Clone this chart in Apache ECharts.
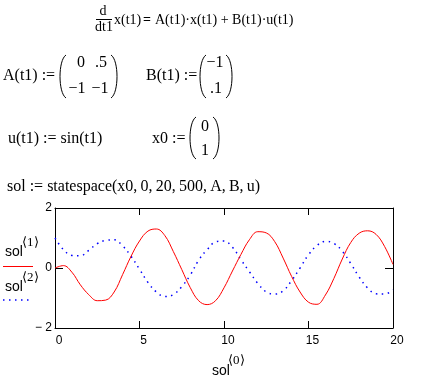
<!DOCTYPE html>
<html><head><meta charset="utf-8">
<script src="https://cdn.jsdelivr.net/npm/echarts/dist/echarts.min.js"></script>
<style>html,body{margin:0;padding:0;background:#fff}#c{width:426px;height:385px}</style>
</head><body><div id="c"></div><script>
// time values (sol<0>)
const tValues = [0,0.5,1,1.5,2,2.5,3,3.5,4,4.5,5,5.5,6,6.5,7,7.5,8,8.5,9,9.5,10,10.5,11,11.5,12,12.5,13,13.5,14,14.5,15,15.5,16,16.5,17,17.5,18,18.5,19,19.5,20];
// sol<1>  (red solid)
const sol1 = [0.00,0.08,-0.14,-0.56,-0.89,-1.09,-1.07,-0.80,-0.22,0.39,0.90,1.23,1.30,1.08,0.55,-0.05,-0.65,-1.09,-1.22,-1.09,-0.66,-0.10,0.45,0.94,1.21,1.17,0.88,0.33,-0.28,-0.80,-1.14,-1.21,-0.90,-0.35,0.30,0.85,1.16,1.24,1.12,0.72,0.12];
// sol<2>  (blue dotted)
const sol2 = [1.00,0.61,0.42,0.41,0.59,0.81,0.92,0.94,0.74,0.39,-0.04,-0.48,-0.80,-0.95,-0.89,-0.62,-0.24,0.26,0.61,0.87,0.90,0.69,0.28,-0.12,-0.51,-0.80,-0.87,-0.76,-0.42,0.00,0.44,0.75,0.89,0.82,0.56,0.15,-0.30,-0.67,-0.86,-0.87,-0.73];
const xTickLabels = ['0','5','10','15','20'];
const yTickLabels = {'-2':'\u2212 2','0':'0','2':'2'};

const SERIF = '16px "Liberation Serif", "Times New Roman", serif';
const SERIF1 = '14px "Liberation Serif", "Times New Roman", serif';
const SANS = '14px "Liberation Sans", Arial, sans-serif';
const SUP = '13px "Liberation Serif", serif';
const NUM = '15px "Liberation Sans Narrow", "DejaVu Sans Condensed", "Liberation Sans", sans-serif';

function T(text, x, y, o) {
  o = o || {};
  return {type:'text', silent:true, z:10, style:{text:text, x:x, y:y, fill:'#000',
    font:o.font||SERIF, textAlign:o.align||'left', align:o.align||'left',
    textVerticalAlign:'middle', verticalAlign:'middle'}};
}
function paren(xEnd, xBulge, top, bottom) {
  const c = xEnd + (xBulge - xEnd)/0.75, h = bottom-top;
  return {type:'bezierCurve', silent:true, shape:{x1:xEnd,y1:top,x2:xEnd,y2:bottom,
    cpx1:c, cpy1:top+h*0.12, cpx2:c, cpy2:bottom-h*0.12},
    style:{stroke:'#000', lineWidth:1, fill:null}};
}
function line(x1,y1,x2,y2,st){return {type:'line',silent:true,shape:{x1,y1,x2,y2},style:Object.assign({stroke:'#000',lineWidth:1},st||{})};}

const graphics = [
  // line 1
  T('d', 103, 11, {align:'center', font:SERIF1}),
  line(96, 19.5, 112, 19.5),
  T('dt1', 104, 27, {align:'center', font:SERIF1}),
  T('x(t1)', 114, 20, {font:SERIF1}),
  T('=', 147, 20, {align:'center', font:'bold '+SERIF1}),
  T('A(t1)\u00b7x(t1) + B(t1)\u00b7u(t1)', 155, 20, {font:SERIF1}),
  // line 2
  T('A(t1) :=', 3, 76),
  paren(66, 60, 55, 98), paren(111, 117, 55, 98),
  T('0', 81, 63, {align:'center'}), T('.5', 101, 63, {align:'center'}),
  T('\u22121', 77, 89, {align:'center'}), T('\u22121', 100, 89, {align:'center'}),
  T('B(t1) :=', 146, 76),
  paren(206, 200, 55, 98), paren(226, 232, 55, 98),
  T('\u22121', 215, 63, {align:'center'}), T('.1', 216, 89, {align:'center'}),
  // line 3
  T('u(t1) := sin(t1)', 8, 139),
  T('x0 :=', 152, 139),
  paren(196, 190, 117, 159), paren(213, 219, 117, 159),
  T('0', 205, 127, {align:'center'}), T('1', 205, 151, {align:'center'}),
  // line 4
  T('sol := statespace(x0,\u20090,\u200920,\u2009500,\u2009A,\u2009B,\u2009u)', 7, 187),
  // legend
  T('sol', 5, 252, {font:SANS}), T('\u27e81\u27e9', 22, 243, {font:SUP}),
  line(3, 266.5, 33, 266.5, {stroke:'#ff0000'}),
  T('sol', 5, 287, {font:SANS}), T('\u27e82\u27e9', 22, 278, {font:SUP}),
  line(3, 300, 30, 300, {stroke:'#0000ff', lineWidth:1.5, lineDash:[1.5,4.5]}),
  // x axis title
  T('sol', 212, 371, {font:SANS}), T('\u27e80\u27e9', 228, 361, {font:SUP})
];

const black = {color:'#000', width:1};
const chart = echarts.init(document.getElementById('c'), null, {renderer:'canvas'});
chart.setOption({
  animation:false,
  backgroundColor:'#fff',
  grid:{left:55, top:208, width:338, height:120, show:false},
  xAxis:[
    {type:'value', min:0, max:20, interval:5, position:'bottom',
     axisLine:{show:true, onZero:false, lineStyle:black}, axisTick:{show:true, inside:true, length:7, lineStyle:black},
     splitLine:{show:false},
     axisLabel:{show:true, color:'#000', font:NUM, margin:7, padding:[0,0,0,8],
       formatter:(v)=>xTickLabels[xTickLabels.indexOf(String(v))]}},
    {type:'value', min:0, max:20, interval:5, position:'top',
     axisLine:{show:true, onZero:false, lineStyle:black}, axisTick:{show:true, inside:true, length:7, lineStyle:black},
     splitLine:{show:false}, axisLabel:{show:false}}
  ],
  yAxis:[
    {type:'value', min:-2, max:2, interval:2, position:'left',
     axisLine:{show:true, onZero:false, lineStyle:black}, axisTick:{show:true, inside:true, length:8, lineStyle:black},
     splitLine:{show:false},
     axisLabel:{show:true, color:'#000', font:NUM, margin:3, formatter:(v)=>yTickLabels[String(v)]}},
    {type:'value', min:-2, max:2, interval:2, position:'right',
     axisLine:{show:true, onZero:false, lineStyle:black}, axisTick:{show:true, inside:true, length:8, lineStyle:black},
     splitLine:{show:false}, axisLabel:{show:false}}
  ],
  series:[
    {type:'line', name:'sol1', data:tValues.map((t,i)=>[t,sol1[i]]), showSymbol:false, smooth:0.4,
     lineStyle:{color:'#ff0000', width:1}, z:3},
    {type:'line', name:'sol2', data:tValues.map((t,i)=>[t,sol2[i]]), showSymbol:false, smooth:0.4,
     lineStyle:{color:'#0000ff', width:1.5, type:[1.5,4.5]}, z:2}
  ],
  graphic:graphics
});
</script></body></html>
